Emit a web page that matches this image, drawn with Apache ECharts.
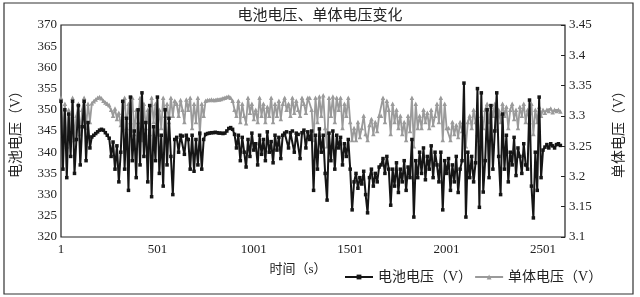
<!DOCTYPE html>
<html><head><meta charset="utf-8">
<script src="https://cdn.jsdelivr.net/npm/echarts@6/dist/echarts.min.js"></script>
<style>html,body{margin:0;padding:0;background:#fff}#c{width:640px;height:297px}</style>
</head><body><div id="c"></div>
<script>
// sampling: one reading every 10 s, first reading at t = 1 s
const timeStep = 10;
const firstTime = 1;
const titleText = '电池电压、单体电压变化';
const seriesNames = ['电池电压（V）', '单体电压（V）'];
const leftAxisName = '电池电压（V）';
const rightAxisName = '单体电压（V）';
const xAxisName = '时间（s）';

// 电池电压 (V), left axis
const batteryVoltage = [
  352, 336, 350, 334, 349, 339, 352, 335, 343, 351,
  337, 346, 352, 338, 347, 341, 343.6, 344.0, 344.4, 344.8,
  345.2, 345.4, 345.2, 344.6, 344.0, 343.3, 339, 342.4, 336, 341.5,
  333, 340, 352, 336, 348, 331, 353, 338, 345, 334,
  350, 337, 354, 339, 347, 333, 351, 329.5, 346, 338,
  353, 335, 344, 332, 350, 337, 348, 339, 330, 343,
  343.5, 340, 344, 343.8, 339.5, 344, 343, 336, 344, 335.5,
  343, 337, 344.5, 336, 343, 344.2, 344.4, 344.5, 344.6, 344.6,
  344.7, 344.6, 344.5, 344.5, 344.4, 344.5, 345.0, 345.6, 345.8, 345.4,
  344.2, 341, 344, 338, 343.5, 340, 336.5, 343, 339, 344.5,
  340.5, 342, 337, 344, 339.5, 343, 338, 344.8, 340, 342.5,
  337.5, 344, 340.5, 343.5, 338.5, 344, 344.5, 344.8, 341, 344.6,
  345, 340, 344.5, 344.2, 338.5, 344.6, 345.2, 341, 344.8, 343,
  345, 331, 344, 336, 345.5, 340, 344, 335, 328.7, 344.5,
  338, 345, 336, 344, 341, 343.5, 337, 342, 339, 343,
  336, 326.4, 333, 335, 331.5, 334, 332.5, 335.5, 330, 325.7,
  334, 336, 332, 335, 333, 336.5, 337, 338.5, 335, 339,
  336, 327.5, 336, 332, 337.5, 330.5, 336, 333, 338, 331,
  336.5, 334, 343, 324.7, 338, 334, 340, 335, 341, 333.5,
  339, 336, 341.5, 334, 340, 337, 333, 340, 326.4, 338,
  335, 338.5, 331, 337, 333, 339, 330.5, 336, 338, 356.3,
  324.7, 340, 334, 339, 333, 337.5, 355, 327, 354, 330.6,
  338, 350, 334, 351, 336, 345, 354, 339, 330, 349,
  336, 344, 333, 340, 337, 343.5, 334.5, 341, 339, 335,
  342, 337, 336, 352.3, 332, 324.5, 340, 331, 353, 334,
  340.5, 341.2, 341.8, 341, 342, 341.5, 341, 341.8, 342, 341.6
];

// 单体电压 (V), right axis
const cellVoltage = [
  3.33, 3.27, 3.32, 3.25, 3.31, 3.28, 3.33, 3.26, 3.30, 3.32,
  3.27, 3.31, 3.33, 3.28, 3.32, 3.29, 3.321, 3.324, 3.327, 3.330,
  3.331, 3.329, 3.325, 3.322, 3.320, 3.318, 3.31, 3.30, 3.312, 3.295,
  3.305, 3.285, 3.30, 3.33, 3.28, 3.32, 3.29, 3.33, 3.27, 3.31,
  3.29, 3.33, 3.26, 3.32, 3.28, 3.31, 3.27, 3.33, 3.29, 3.32,
  3.27, 3.31, 3.28, 3.33, 3.30, 3.32, 3.29, 3.33, 3.30, 3.325,
  3.32, 3.30, 3.326, 3.31, 3.29, 3.327, 3.31, 3.33, 3.28, 3.32,
  3.29, 3.33, 3.27, 3.32, 3.30, 3.325, 3.326, 3.326, 3.327, 3.326,
  3.326, 3.327, 3.327, 3.328, 3.329, 3.330, 3.331, 3.332, 3.330, 3.325,
  3.31, 3.30, 3.325, 3.29, 3.32, 3.30, 3.288, 3.33, 3.305, 3.32,
  3.295, 3.31, 3.29, 3.33, 3.30, 3.32, 3.29, 3.315, 3.30, 3.33,
  3.29, 3.32, 3.30, 3.325, 3.295, 3.32, 3.33, 3.31, 3.32, 3.30,
  3.33, 3.305, 3.325, 3.31, 3.30, 3.33, 3.32, 3.305, 3.33, 3.33,
  3.31, 3.26, 3.33, 3.29, 3.332, 3.30, 3.334, 3.28, 3.25, 3.33,
  3.30, 3.332, 3.29, 3.33, 3.31, 3.33, 3.28, 3.32, 3.30, 3.33,
  3.29, 3.26, 3.28, 3.26, 3.29, 3.265, 3.28, 3.30, 3.27, 3.26,
  3.285, 3.295, 3.27, 3.29, 3.275, 3.30, 3.30, 3.33, 3.29, 3.325,
  3.31, 3.27, 3.32, 3.29, 3.31, 3.28, 3.30, 3.27, 3.29, 3.26,
  3.30, 3.275, 3.33, 3.25, 3.32, 3.28, 3.30, 3.28, 3.31, 3.29,
  3.305, 3.28, 3.31, 3.285, 3.30, 3.32, 3.29, 3.33, 3.26, 3.32,
  3.28, 3.28, 3.26, 3.29, 3.27, 3.285, 3.265, 3.29, 3.275, 3.27,
  3.25, 3.29, 3.30, 3.28, 3.31, 3.29, 3.27, 3.26, 3.30, 3.28,
  3.31, 3.32, 3.29, 3.315, 3.30, 3.32, 3.28, 3.31, 3.29, 3.32,
  3.30, 3.315, 3.28, 3.31, 3.32, 3.295, 3.31, 3.28, 3.315, 3.30,
  3.32, 3.29, 3.31, 3.29, 3.32, 3.27, 3.31, 3.29, 3.315, 3.30,
  3.31, 3.305, 3.31, 3.308, 3.312, 3.306, 3.31, 3.308, 3.31, 3.307
];

// axis scales / tick labels
const leftAxisRange = [320, 370, 5];
const rightAxisRange = [3.1, 3.45, 0.05];
const xAxisRange = [1, 2615, 500]; // labels 1, 501, 1001, ...

const FONT = '"Liberation Serif", "Noto Sans CJK SC", serif';
const toPairs = arr => arr.map((v, i) => [i * timeStep + firstTime - xAxisRange[0], v]);

const chart = echarts.init(document.getElementById('c'), null, {renderer: 'canvas'});
chart.setOption({
  animation: false,
  backgroundColor: '#fff',
  textStyle: {fontFamily: FONT, color: '#222'},
  title: {
    text: titleText, left: 'center', top: 4,
    textStyle: {fontFamily: FONT, fontSize: 15, fontWeight: 'normal', color: '#222'}
  },
  graphic: [{
    type: 'rect', shape: {x: 4, y: 3, width: 629, height: 291},
    style: {fill: 'none', stroke: '#333', lineWidth: 1.2}, silent: true, z: -1
  }],
  legend: {
    data: seriesNames, left: 344, top: 270, itemGap: 2, itemWidth: 28, itemHeight: 6,
    textStyle: {fontFamily: FONT, fontSize: 14, color: '#222'}, padding: 0
  },
  grid: {left: 61, right: 75, top: 25, bottom: 60, show: true, borderColor: '#222', borderWidth: 1.2},
  xAxis: {
    type: 'value', min: 0, max: xAxisRange[1] - xAxisRange[0], interval: xAxisRange[2],
    name: xAxisName, nameLocation: 'middle', nameGap: 26,
    nameTextStyle: {fontFamily: FONT, fontSize: 13, color: '#222', padding: [0, 30, 0, 0]},
    axisLine: {show: false}, axisTick: {show: false}, splitLine: {show: false},
    axisLabel: {fontFamily: FONT, fontSize: 13, color: '#222', margin: 6, showMaxLabel: false,
      formatter: v => String(v + xAxisRange[0])}
  },
  yAxis: [{
    type: 'value', position: 'left', min: leftAxisRange[0], max: leftAxisRange[1], interval: leftAxisRange[2],
    name: leftAxisName, nameLocation: 'middle', nameGap: 38, nameRotate: 90,
    nameTextStyle: {fontFamily: FONT, fontSize: 14, color: '#222'},
    axisLine: {show: false}, axisTick: {show: false}, splitLine: {show: false},
    axisLabel: {fontFamily: FONT, fontSize: 13, color: '#222', margin: 4}
  }, {
    type: 'value', position: 'right', min: rightAxisRange[0], max: rightAxisRange[1], interval: rightAxisRange[2],
    name: rightAxisName, nameLocation: 'middle', nameGap: 47, nameRotate: 90,
    nameTextStyle: {fontFamily: FONT, fontSize: 14, color: '#222'},
    axisLine: {show: false}, axisTick: {show: true, inside: true, length: 4, lineStyle: {color: '#222'}},
    splitLine: {show: false},
    axisLabel: {fontFamily: FONT, fontSize: 13, color: '#222', margin: 4,
      formatter: v => String(parseFloat(v.toFixed(2)))}
  }],
  series: [{
    name: seriesNames[1], type: 'line', yAxisIndex: 1, data: toPairs(cellVoltage),
    symbol: 'triangle', symbolSize: 4.5, showAllSymbol: true,
    lineStyle: {color: '#9a9a9a', width: 1.8}, itemStyle: {color: '#9a9a9a'}, z: 2
  }, {
    name: seriesNames[0], type: 'line', yAxisIndex: 0, data: toPairs(batteryVoltage),
    symbol: 'rect', symbolSize: 3.5, showAllSymbol: true,
    lineStyle: {color: '#151515', width: 2}, itemStyle: {color: '#151515'}, z: 3
  }]
});
</script></body></html>
